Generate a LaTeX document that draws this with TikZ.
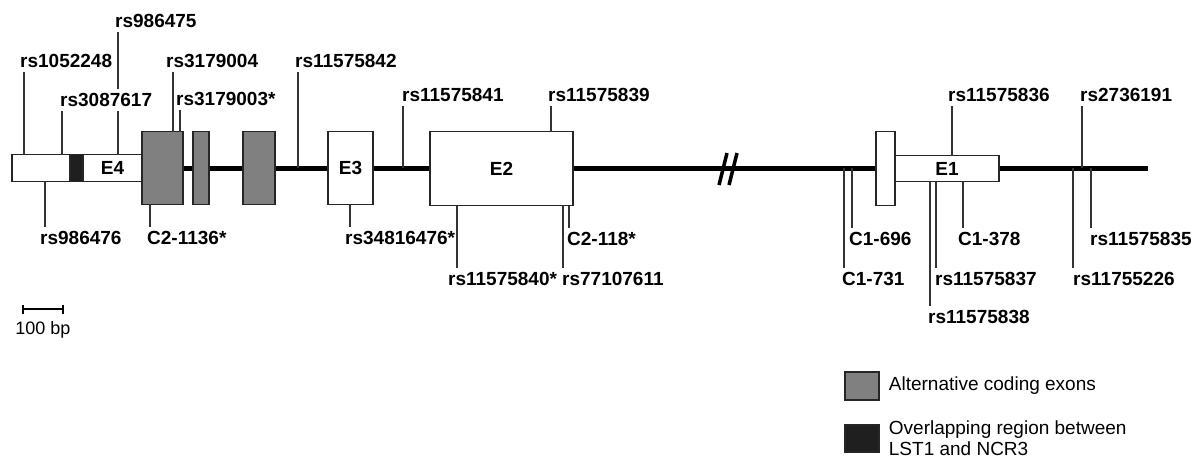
\documentclass[tikz,border=0pt]{standalone}
\usepackage{fontspec}
\setmainfont{Liberation Sans}
\usepackage{xcolor}
\usepackage{tikz}
\usetikzlibrary{arrows.meta, positioning, calc}

\begin{document}
\begin{tikzpicture}[
  x=1pt, y=-1pt,
  exonbox/.style={draw=black!85, line width=1.4pt, fill=white, inner sep=0pt,
                  font=\bfseries\fontsize{19}{21}\selectfont},
  altbox/.style={exonbox, fill=black!50},
  ovlbox/.style={exonbox, fill=black!88},
  snptop/.style={anchor=south west, inner xsep=1pt, inner ysep=4pt,
                 font=\bfseries\fontsize{19}{21}\selectfont},
  snpbot/.style={snptop, anchor=north west},
  tick/.style={draw=black!80, line width=1.3pt},
  gene/.style={line width=5pt},
  lgd/.style={font=\fontsize{19}{21}\selectfont, align=left, anchor=west, inner sep=0pt}
]
\useasboundingbox (0,0) rectangle (1202,459);

% Main gene line
\coordinate (gstart) at (142,168);
\coordinate (gend) at (1148,168);
\draw[gene] (gstart) -- (gend);

% Break in the line
\draw[line width=3.5pt] (719,185) -- (727,153);
\draw[line width=3.5pt] (729,185) -- (737,153);

% Exon 4 with UTR and overlap
\node[exonbox, minimum width=58pt, minimum height=27pt] (utr) at (41,168) {};
\node[ovlbox, minimum width=13pt, minimum height=27pt] (ovl) at (76.5,168) {};
\node[exonbox, minimum width=59pt, minimum height=27pt] (e4) at (112.5,168) {E4};

% Alternative coding exons
\node[altbox, minimum width=41pt, minimum height=73pt] (alt1) at (162.5,168) {};
\node[altbox, minimum width=16pt, minimum height=73pt] (alt2) at (201,168) {};
\node[altbox, minimum width=32pt, minimum height=73pt] (alt3) at (259,168) {};

% Exons 3, 2, 1
\node[exonbox, minimum width=45pt, minimum height=73pt] (e3) at (350.5,168) {E3};
\node[exonbox, minimum width=143pt, minimum height=74pt] (e2) at (501.5,168.5) {E2};
\node[exonbox, minimum width=19pt, minimum height=74pt] (e1a) at (885.5,168.5) {};
\node[exonbox, minimum width=104pt, minimum height=26pt] (e1) at (947,168.5) {E1};

% SNP positions on the gene
\coordinate (p1) at (24,155);
\coordinate (p2) at (62,155);
\coordinate (p3) at (118,155);
\coordinate (p4) at (173,132);
\coordinate (p5) at (180,132);
\coordinate (p6) at (298,168);
\coordinate (p7) at (403,168);
\coordinate (p8) at (551,132);
\coordinate (p9) at (952,156);
\coordinate (p10) at (1082,168);
\coordinate (p11) at (45,182);
\coordinate (p12) at (150,205);
\coordinate (p13) at (350,205);
\coordinate (p14) at (457,206);
\coordinate (p15) at (563,206);
\coordinate (p16) at (569,206);
\coordinate (p17) at (844,168);
\coordinate (p18) at (852,168);
\coordinate (p19) at (930,182);
\coordinate (p20) at (936,182);
\coordinate (p21) at (963,182);
\coordinate (p22) at (1073,168);
\coordinate (p23) at (1091,168);

% Labels above
\node[snptop] (l3) at (114,32) {rs986475};
\draw[tick] (p3) -- (p3 |- l3.south);
\node[snptop] (l1) at (19,72) {rs1052248};
\node[snptop, fill=white] (l2) at (59,111) {rs3087617};
\node[snptop] (l4) at (165,72) {rs3179004};
\node[snptop] (l5) at (175,110) {rs3179003*};
\node[snptop] (l6) at (294,72) {rs11575842};
\node[snptop] (l7) at (401,106) {rs11575841};
\node[snptop] (l8) at (547,106) {rs11575839};
\node[snptop] (l9) at (947,106) {rs11575836};
\node[snptop] (l10) at (1079,106) {rs2736191};

\draw[tick] (p1) -- (p1 |- l1.south);
\draw[tick] (p2) -- (p2 |- l2.south);
\draw[tick] (p4) -- (p4 |- l4.south);
\draw[tick] (p5) -- (p5 |- l5.south);
\draw[tick] (p6) -- (p6 |- l6.south);
\draw[tick] (p7) -- (p7 |- l7.south);
\draw[tick] (p8) -- (p8 |- l8.south);
\draw[tick] (p9) -- (p9 |- l9.south);
\draw[tick] (p10) -- (p10 |- l10.south);

% Labels below
\node[snpbot] (l11) at (39,227) {rs986476};
\node[snpbot] (l12) at (146,227) {C2-1136*};
\node[snpbot] (l13) at (344,227) {rs34816476*};
\node[snpbot] (l14) at (447,268) {rs11575840*};
\node[snpbot] (l15) at (561,268) {rs77107611};
\node[snpbot] (l16) at (566,228) {C2-118*};
\node[snpbot] (l17) at (841,268) {C1-731};
\node[snpbot] (l18) at (848,228) {C1-696};
\node[snpbot] (l19) at (927,306) {rs11575838};
\node[snpbot] (l20) at (934,268) {rs11575837};
\node[snpbot] (l21) at (957,228) {C1-378};
\node[snpbot] (l22) at (1072,268) {rs11755226};
\node[snpbot] (l23) at (1089,228) {rs11575835};

\draw[tick] (p11) -- (p11 |- l11.north);
\draw[tick] (p12) -- (p12 |- l12.north);
\draw[tick] (p13) -- (p13 |- l13.north);
\draw[tick] (p14) -- (p14 |- l14.north);
\draw[tick] (p15) -- (p15 |- l15.north);
\draw[tick] (p16) -- (p16 |- l16.north);
\draw[tick] (p17) -- (p17 |- l17.north);
\draw[tick] (p18) -- (p18 |- l18.north);
\draw[tick] (p19) -- (p19 |- l19.north);
\draw[tick] (p20) -- (p20 |- l20.north);
\draw[tick] (p21) -- (p21 |- l21.north);
\draw[tick] (p22) -- (p22 |- l22.north);
\draw[tick] (p23) -- (p23 |- l23.north);

% Scale bar
\coordinate (sb1) at (22,309);
\coordinate (sb2) at (64,309);
\draw[line width=2pt, {Bar[width=9pt]}-{Bar[width=9pt]}] (sb1) -- (sb2);
\node[font=\fontsize{18}{20}\selectfont, inner sep=0pt] (sbl) at (43,330) {100 bp};

% Legend
\node[altbox, minimum width=34pt, minimum height=28pt] (lg1) at (862,386) {};
\node[lgd, right=9pt of lg1] (lgt1) {Alternative coding exons};
\node[ovlbox, minimum width=34pt, minimum height=27pt] (lg2) at (862,438.5) {};
\node[lgd, right=9pt of lg2, yshift=0.5pt] (lgt2) {Overlapping region between\\LST1 and NCR3};

\end{tikzpicture}
\end{document}
